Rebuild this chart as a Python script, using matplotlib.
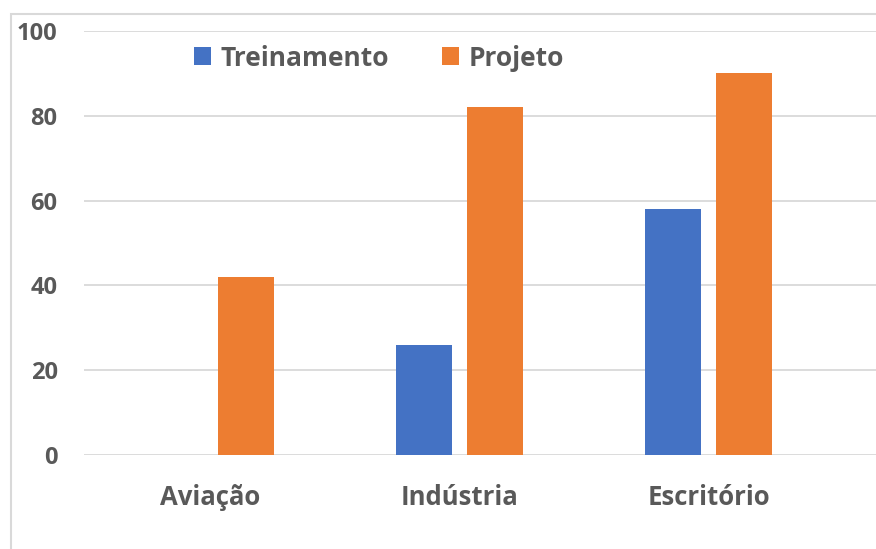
import matplotlib.pyplot as plt
from matplotlib.patches import Rectangle

categories = ['Aviação', 'Indústria', 'Escritório']
treinamento = [0, 26, 58]
projeto = [42, 82, 90]
yticks = [0, 20, 40, 60, 80, 100]

blue = '#4472C4'
orange = '#ED7D31'
grey_text = '#595959'

plt.rcParams['font.family'] = ['Open Sans', 'DejaVu Sans']
plt.rcParams['font.weight'] = 'bold'

fig = plt.figure(figsize=(8.76, 5.49), dpi=100)
ax = fig.add_axes([84 / 876, 94 / 549, 1 - 84 / 876, 424 / 549])

w = 0.225
off = 0.1426
x = list(range(len(categories)))
ax.bar([i - off for i in x], treinamento, width=w, color=blue, label='Treinamento', zorder=3)
ax.bar([i + off for i in x], projeto, width=w, color=orange, label='Projeto', zorder=3)

ax.set_xlim(-0.508, 2.673)
ax.set_ylim(0, 100)
ax.set_yticks(yticks)
ax.set_xticks(x)
ax.set_xticklabels(categories)
ax.grid(axis='y', color='#D9D9D9', linewidth=1.3, zorder=0)
for s in ax.spines.values():
    s.set_visible(False)
ax.tick_params(axis='both', length=0, colors=grey_text, labelsize=17)
ax.tick_params(axis='y', pad=19)
ax.tick_params(axis='x', pad=21, labelsize=18.5)
for lbl in ax.get_xticklabels() + ax.get_yticklabels():
    lbl.set_fontweight('bold')

leg = fig.legend(loc='center', bbox_to_anchor=(379 / 876, 1 - 58 / 549), ncol=2,
                 frameon=False, fontsize=19, handlelength=0.65, handleheight=0.65,
                 handletextpad=0.35, columnspacing=2.0, borderaxespad=0)
for t in leg.get_texts():
    t.set_color(grey_text)
    t.set_fontweight('bold')

# outer chart border (top and left visible)
fig.patches.append(Rectangle((11 / 876, -0.01), 1.0, 1 - 14 / 549 + 0.01,
                             transform=fig.transFigure, fill=False,
                             edgecolor='#D9D9D9', linewidth=1.5))

fig.savefig('out.png', dpi=100)
